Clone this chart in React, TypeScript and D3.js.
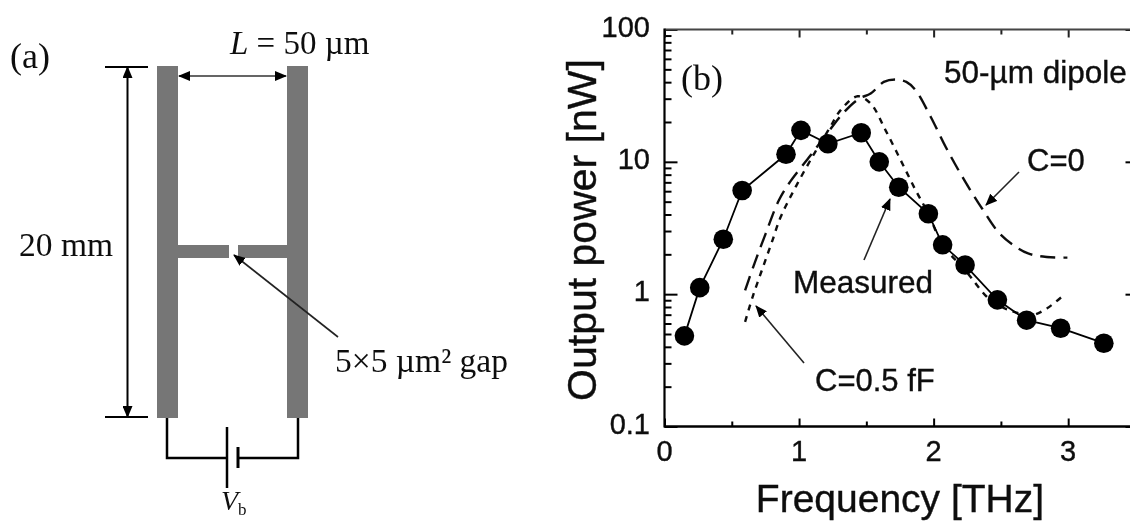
import React, { useEffect, useRef } from "react";
import * as d3 from "d3";

// panel (b) values
const measuredFreq = [0.148, 0.262, 0.437, 0.577, 0.903, 1.014, 1.214, 1.462, 1.596, 1.741, 1.961, 2.067, 2.234, 2.474, 2.691, 2.944, 3.265];
const measuredPower = [0.484, 1.12, 2.6, 6.07, 11.4, 17.3, 13.7, 16.6, 10.0, 6.43, 4.05, 2.36, 1.66, 0.906, 0.636, 0.553, 0.426];

const c0Freq = [0.599, 0.669, 0.752, 0.85, 0.933, 1.086, 1.226, 1.337, 1.448, 1.532, 1.63, 1.713, 1.797, 1.866, 1.978, 2.089, 2.228, 2.368, 2.479, 2.591, 2.702, 2.841, 2.994];
const c0Power = [1.07, 1.71, 2.87, 5.13, 7.06, 11.2, 17.3, 23.9, 30.1, 32.8, 40.2, 41.9, 40.2, 34.8, 21.9, 13.0, 7.27, 4.31, 2.96, 2.35, 2.03, 1.91, 1.89];

const c05Freq = [0.599, 0.655, 0.724, 0.794, 0.864, 0.975, 1.114, 1.226, 1.309, 1.435, 1.532, 1.643, 1.755, 1.866, 1.961, 2.067, 2.234, 2.423, 2.563, 2.73, 2.841, 2.953];
const c05Power = [0.618, 0.955, 1.52, 2.41, 3.84, 6.47, 11.6, 17.9, 24.6, 31.3, 27.6, 17.3, 10.3, 6.11, 4.05, 2.36, 1.52, 0.9, 0.757, 0.694, 0.78, 0.955];

const freqMajor = [0, 1, 2, 3];
const freqMinor = [0.5, 1.5, 2.5, 3.5];
const powerMajor = [0.1, 1, 10, 100];

const SERIF = "'Liberation Serif', serif";
const SANS = "'Liberation Sans', sans-serif";

export default function App() {
  const ref = useRef<SVGSVGElement>(null);

  useEffect(() => {
    const svg = d3.select(ref.current);
    svg.selectAll("*").remove();

    const defs = svg.append("defs");
    defs.append("filter").attr("id", "soft")
      .attr("x", 0).attr("y", 0).attr("width", 1130).attr("height", 524)
      .attr("filterUnits", "userSpaceOnUse")
      .append("feGaussianBlur").attr("stdDeviation", 0.55);
    defs.append("marker").attr("id", "head")
      .attr("markerUnits", "userSpaceOnUse")
      .attr("viewBox", "0 0 12 10").attr("refX", 11).attr("refY", 5)
      .attr("markerWidth", 12).attr("markerHeight", 10)
      .attr("orient", "auto-start-reverse")
      .append("path").attr("d", "M0,0L12,5L0,10Z").attr("fill", "#000");

    const root = svg.append("g").attr("filter", "url(#soft)");
    drawSchematic(root);
    drawPlot(root);
  }, []);

  return (
    <svg
      ref={ref}
      width={1130}
      height={524}
      style={{ position: "absolute", left: 0, top: 0, background: "#fff" }}
    />
  );
}

function label(g: any, text: string, x: number, y: number, size: number, family: string, anchor = "start") {
  const t = g.append("text")
    .attr("x", x).attr("y", y)
    .attr("font-size", size)
    .attr("font-family", family)
    .attr("text-anchor", anchor)
    .attr("fill", "#111")
    .text(text);
  // the scan's sans labels print a little heavier
  if (family === SANS) t.attr("stroke", "#111").attr("stroke-width", 0.4);
  return t;
}

function segment(g: any, x1: number, y1: number, x2: number, y2: number, width = 2, color = "#000") {
  return g.append("line")
    .attr("x1", x1).attr("y1", y1).attr("x2", x2).attr("y2", y2)
    .attr("stroke", color).attr("stroke-width", width);
}

function drawSchematic(root: any) {
  const g = root.append("g");
  const grey = "#767676";

  g.append("rect").attr("x", 157).attr("y", 66).attr("width", 21).attr("height", 352).attr("fill", grey);
  g.append("rect").attr("x", 287).attr("y", 66).attr("width", 21).attr("height", 352).attr("fill", grey);
  g.append("rect").attr("x", 178).attr("y", 245).attr("width", 51).attr("height", 13).attr("fill", grey);
  g.append("rect").attr("x", 238).attr("y", 245).attr("width", 49).attr("height", 13).attr("fill", grey);

  // dimension lines
  segment(g, 105, 67, 148, 67);
  segment(g, 105, 417, 148, 417);
  segment(g, 127.5, 67, 127.5, 417).attr("marker-start", "url(#head)").attr("marker-end", "url(#head)");
  segment(g, 179, 76, 286, 76, 1.6, "#333").attr("marker-start", "url(#head)").attr("marker-end", "url(#head)");
  segment(g, 338, 337, 234, 255, 1.6, "#222").attr("marker-end", "url(#head)");

  // bias circuit
  g.append("path")
    .attr("d", d3.line()([[167, 418], [167, 458], [227, 458]]))
    .attr("fill", "none").attr("stroke", "#000").attr("stroke-width", 2.5);
  g.append("path")
    .attr("d", d3.line()([[238, 458], [298, 458], [298, 418]]))
    .attr("fill", "none").attr("stroke", "#000").attr("stroke-width", 2.5);
  segment(g, 227, 427, 227, 488, 2.5);
  segment(g, 238, 447, 238, 468, 3);

  label(g, "(a)", 10, 68, 36, SERIF);
  const len = label(g, "", 230, 54, 33, SERIF);
  len.append("tspan").attr("font-style", "italic").text("L");
  len.append("tspan").text(" = 50 \u00b5m");
  label(g, "20 mm", 19, 256, 33.5, SERIF);
  label(g, "5\u00d75 \u00b5m\u00b2 gap", 335, 372, 33.5, SERIF);
  const vb = label(g, "", 221, 510, 28, SERIF);
  vb.append("tspan").attr("font-style", "italic").text("V");
  vb.append("tspan").attr("font-size", 17).attr("dy", 5).text("b");
}

function drawPlot(root: any) {
  const x = d3.scaleLinear().domain([0, 3.53]).range([664.5, 1139.5]);
  const y = d3.scaleLog().domain([0.1, 100]).range([426.5, 29.5]);
  const g = root.append("g");

  const [left, right] = x.range();
  const [bottom, top] = y.range();

  const styleAxis = (a: any, color = "#000", width = 2) => {
    a.select(".domain").remove();
    a.selectAll("line").attr("stroke", color).attr("stroke-width", width);
    a.selectAll("text").remove();
  };

  // minor ticks first, then major ones on top
  const minorPower = y.ticks().filter((v) => !powerMajor.includes(v));
  g.append("g").attr("transform", `translate(${left},0)`)
    .call(d3.axisLeft(y).tickValues(minorPower).tickSize(-7)).call(styleAxis);
  g.append("g").attr("transform", `translate(${left},0)`)
    .call(d3.axisLeft(y).tickValues(powerMajor).tickSize(-13)).call(styleAxis);
  g.append("g").attr("transform", `translate(${right},0)`)
    .call(d3.axisRight(y).tickValues(powerMajor).tickSize(-14)).call(styleAxis);
  g.append("g").attr("transform", `translate(0,${bottom})`)
    .call(d3.axisBottom(x).tickValues(freqMajor).tickSize(-8)).call(styleAxis);
  g.append("g").attr("transform", `translate(0,${bottom})`)
    .call(d3.axisBottom(x).tickValues(freqMinor).tickSize(-5)).call(styleAxis);
  g.append("g").attr("transform", `translate(0,${top})`)
    .call(d3.axisTop(x).tickValues(freqMajor).tickSize(-8)).call(styleAxis, "#222");
  g.append("g").attr("transform", `translate(0,${top})`)
    .call(d3.axisTop(x).tickValues(freqMinor).tickSize(-5)).call(styleAxis, "#222");

  segment(g, left, top, 1130, top, 2, "#444");
  segment(g, left, top - 1, left, bottom + 1, 2.2);
  segment(g, left, bottom, 1130, bottom, 2.4);

  powerMajor.forEach((v) => {
    label(g, String(v), 650, y(v) + 7, 29, SANS, "end");
  });
  freqMajor.forEach((v) => {
    label(g, String(v), x(v), 461, 29, SANS, "middle");
  });

  label(g, "Frequency [THz]", 900, 512, 39, SANS, "middle");
  label(g, "Output power [nW]", 0, 0, 41, SANS, "middle")
    .attr("transform", `translate(596,230) rotate(-90)`);

  const curve = d3.line<[number, number]>()
    .x((d) => x(d[0]))
    .y((d) => y(d[1]))
    .curve(d3.curveCatmullRom);

  g.append("path")
    .attr("d", curve(d3.zip(c0Freq, c0Power) as [number, number][]))
    .attr("fill", "none").attr("stroke", "#111").attr("stroke-width", 2.4)
    .attr("stroke-dasharray", "15 8");
  g.append("path")
    .attr("d", curve(d3.zip(c05Freq, c05Power) as [number, number][]))
    .attr("fill", "none").attr("stroke", "#111").attr("stroke-width", 2.4)
    .attr("stroke-dasharray", "6 6");

  const straight = d3.line<[number, number]>().x((d) => x(d[0])).y((d) => y(d[1]));
  const measured = d3.zip(measuredFreq, measuredPower) as [number, number][];
  g.append("path")
    .attr("d", straight(measured))
    .attr("fill", "none").attr("stroke", "#000").attr("stroke-width", 1.8);
  g.selectAll(".dot")
    .data(measured)
    .enter().append("circle")
    .attr("class", "dot")
    .attr("cx", (d: [number, number]) => x(d[0]))
    .attr("cy", (d: [number, number]) => y(d[1]))
    .attr("r", 9.8)
    .attr("fill", "#000");

  // annotations
  label(g, "(b)", 681, 90, 36, SERIF);
  label(g, "50-\u00b5m dipole", 944, 83, 31.5, SANS);
  label(g, "C=0", 1027, 171, 31, SANS);
  label(g, "Measured", 793, 293, 31.5, SANS);
  label(g, "C=0.5 fF", 815, 391, 31, SANS);

  segment(g, 1019, 172, 986, 205, 1.6, "#222").attr("marker-end", "url(#head)");
  segment(g, 864, 260, 890, 199, 1.6, "#222").attr("marker-end", "url(#head)");
  segment(g, 804, 363, 756, 306, 1.6, "#222").attr("marker-end", "url(#head)");
}
